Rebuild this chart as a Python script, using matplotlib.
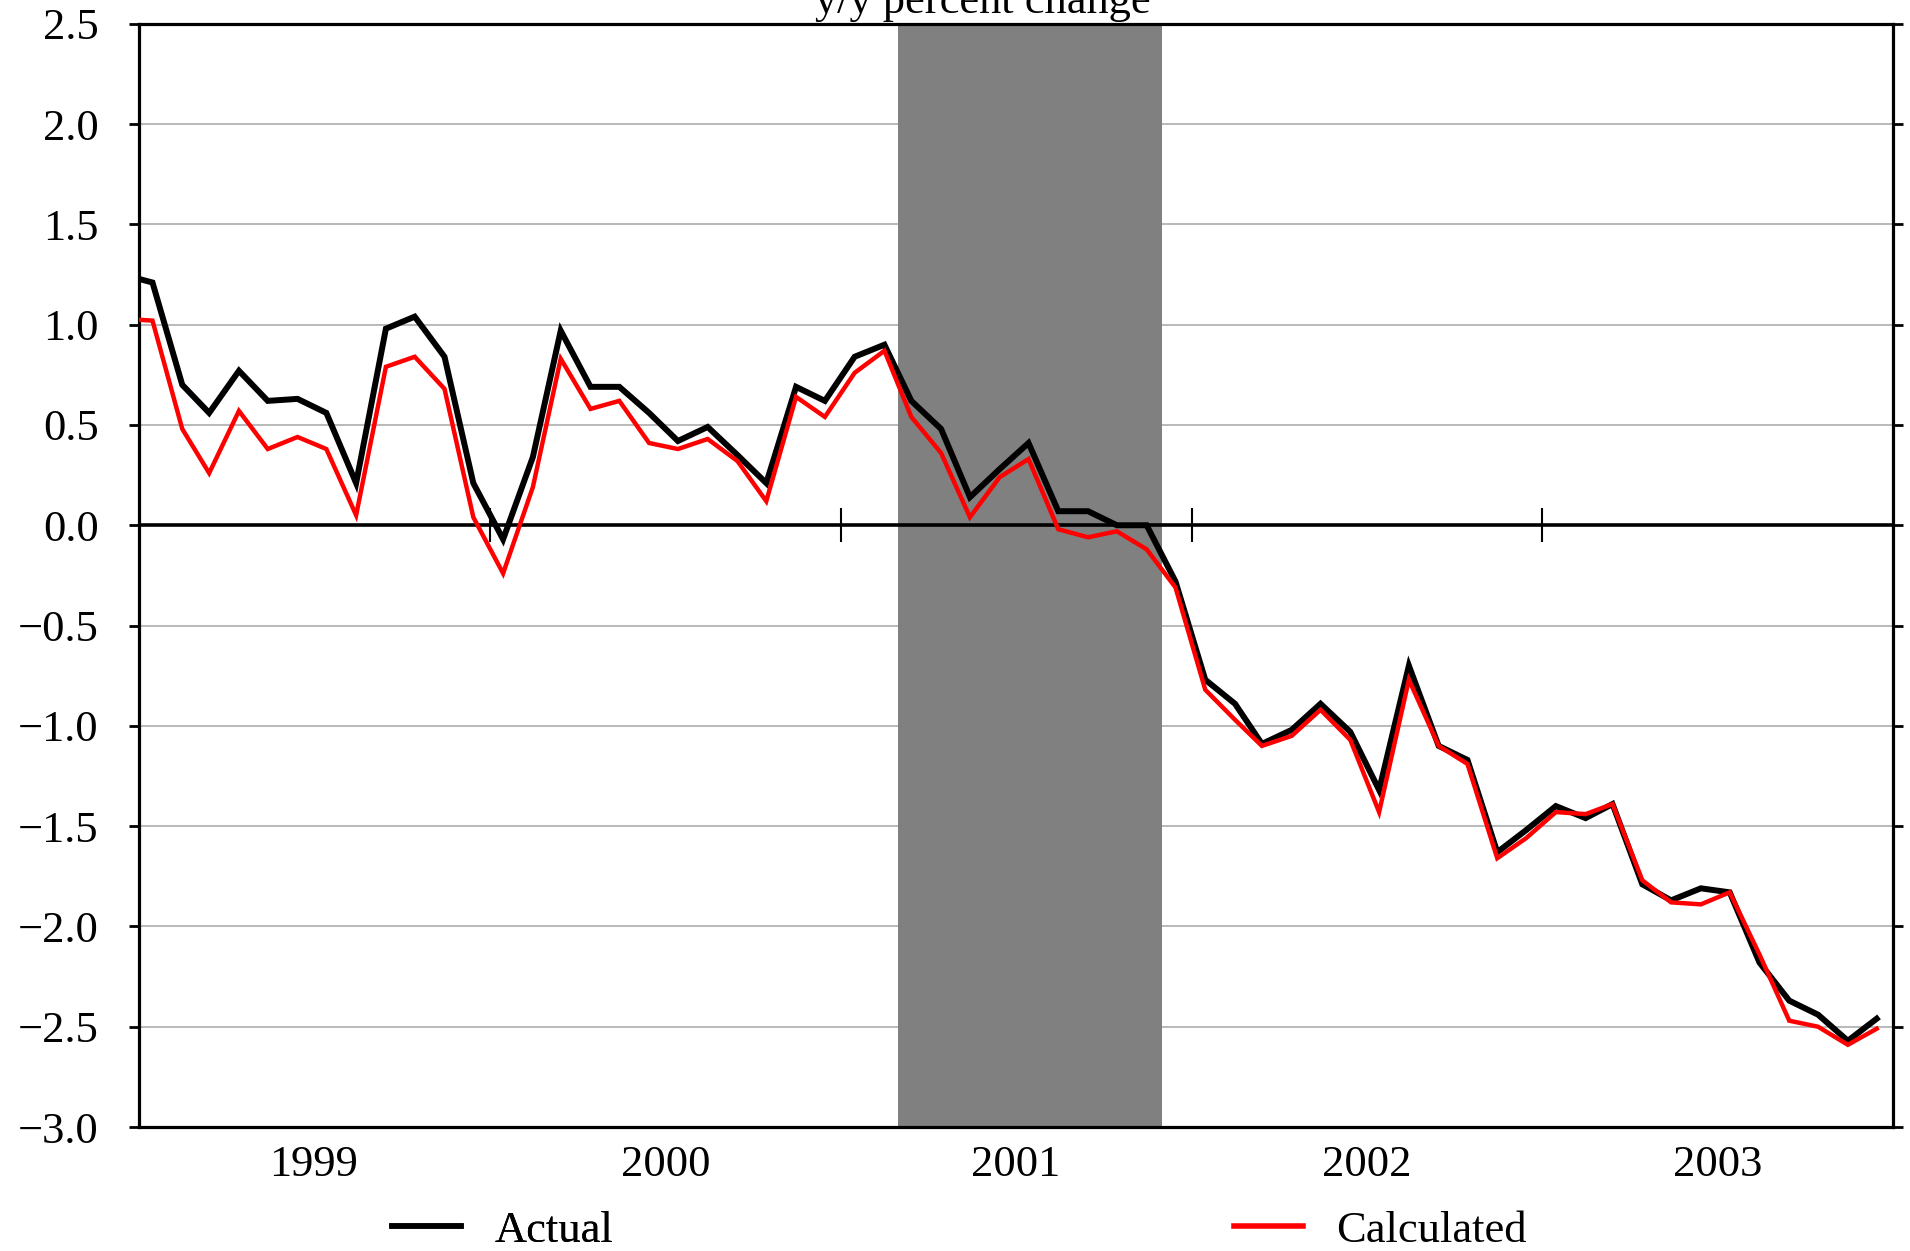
import matplotlib
matplotlib.use('Agg')
import matplotlib.pyplot as plt
from matplotlib.lines import Line2D
import pandas as pd

# monthly observations, Dec 1998 .. Dec 2003 (plotted at mid-month)
months = pd.date_range('1998-12-01', '2003-12-01', freq='MS') + pd.Timedelta(days=14)

actual = [1.25,
          1.21, 0.70, 0.56, 0.77, 0.62, 0.63, 0.56, 0.21, 0.98, 1.04, 0.84, 0.21,
          -0.07, 0.34, 0.97, 0.69, 0.69, 0.56, 0.42, 0.49, 0.35, 0.21, 0.69, 0.62,
          0.84, 0.90, 0.62, 0.48, 0.14, 0.28, 0.41, 0.07, 0.07, 0.00, 0.00, -0.28,
          -0.77, -0.89, -1.09, -1.02, -0.89, -1.03, -1.32, -0.70, -1.10, -1.17, -1.63, -1.52,
          -1.40, -1.46, -1.39, -1.79, -1.87, -1.81, -1.83, -2.18, -2.37, -2.44, -2.57, -2.46]

calculated = [1.03,
              1.02, 0.48, 0.26, 0.57, 0.38, 0.44, 0.38, 0.05, 0.79, 0.84, 0.68, 0.04,
              -0.24, 0.19, 0.83, 0.58, 0.62, 0.41, 0.38, 0.43, 0.32, 0.12, 0.64, 0.54,
              0.76, 0.87, 0.54, 0.36, 0.04, 0.24, 0.33, -0.02, -0.06, -0.03, -0.12, -0.31,
              -0.82, -0.97, -1.10, -1.05, -0.92, -1.07, -1.43, -0.77, -1.10, -1.19, -1.66, -1.56,
              -1.43, -1.44, -1.39, -1.77, -1.88, -1.89, -1.83, -2.14, -2.47, -2.50, -2.59, -2.51]

years = [1999, 2000, 2001, 2002, 2003]
recession = ('2001-03-01', '2001-12-01')
yticks = [2.5, 2.0, 1.5, 1.0, 0.5, 0.0, -0.5, -1.0, -1.5, -2.0, -2.5, -3.0]

plt.rcParams['font.family'] = ['Liberation Serif', 'DejaVu Serif']
plt.rcParams['font.size'] = 32

fig = plt.figure(figsize=(19.1, 12.51), dpi=100)
ax = fig.add_axes([0.0728, 0.0991, 0.9183, 0.8819])

ax.set_axisbelow(True)
ax.yaxis.grid(True, color='#adadad', lw=1.2)
ax.axvspan(pd.Timestamp(recession[0]), pd.Timestamp(recession[1]),
           color='#808080', lw=0, zorder=1)
ax.axhline(0, color='black', lw=2.6, zorder=2)

# year boundary ticks sitting on the zero line
bounds = [pd.Timestamp(f'{y}-01-01') for y in years[1:]]
ax.plot(bounds, [0] * len(bounds), ls='none', marker='|', ms=25, mew=1.5,
        color='black', zorder=2)

ax.plot(months, actual, color='black', lw=4.3, solid_joinstyle='miter', zorder=3)
ax.plot(months, calculated, color='#ff0000', lw=3.2, solid_joinstyle='miter', zorder=4)

ax.set_xlim(pd.Timestamp('1999-01-01'), pd.Timestamp('2004-01-01'))
ax.set_ylim(-3.0, 2.5)
ax.set_yticks(yticks)
ax.set_yticklabels([f'{v:.1f}'.replace('-', '\u2212') for v in yticks])

ax.set_xticks([pd.Timestamp(f'{y}-07-02') for y in years])
ax.set_xticklabels([str(y) for y in years])
ax.tick_params(axis='x', length=0, pad=13)
ax.tick_params(axis='y', direction='out', length=7, width=2, left=True, right=True,
               pad=22)

for s in ax.spines.values():
    s.set_linewidth(2.3)
    s.set_color('black')

fig.text(0.5147, 1 - 12.7 / 1251, 'y/y percent change', ha='center', va='baseline')

leg_y = 1 - 1231 / 1251
h1 = Line2D([], [], color='black', lw=4.0)
h2 = Line2D([], [], color='#ff0000', lw=4.0)
l1 = fig.legend([h1], ['Actual'], loc='center left', bbox_to_anchor=(392 / 1910, leg_y),
                frameon=False, borderpad=0, borderaxespad=0, handlelength=1.55,
                handletextpad=0.75)
fig.add_artist(l1)
fig.legend([h2], ['Calculated'], loc='center left', bbox_to_anchor=(1234 / 1910, leg_y),
           frameon=False, borderpad=0, borderaxespad=0, handlelength=1.55,
           handletextpad=0.75)

fig.savefig('out.png', dpi=100)
